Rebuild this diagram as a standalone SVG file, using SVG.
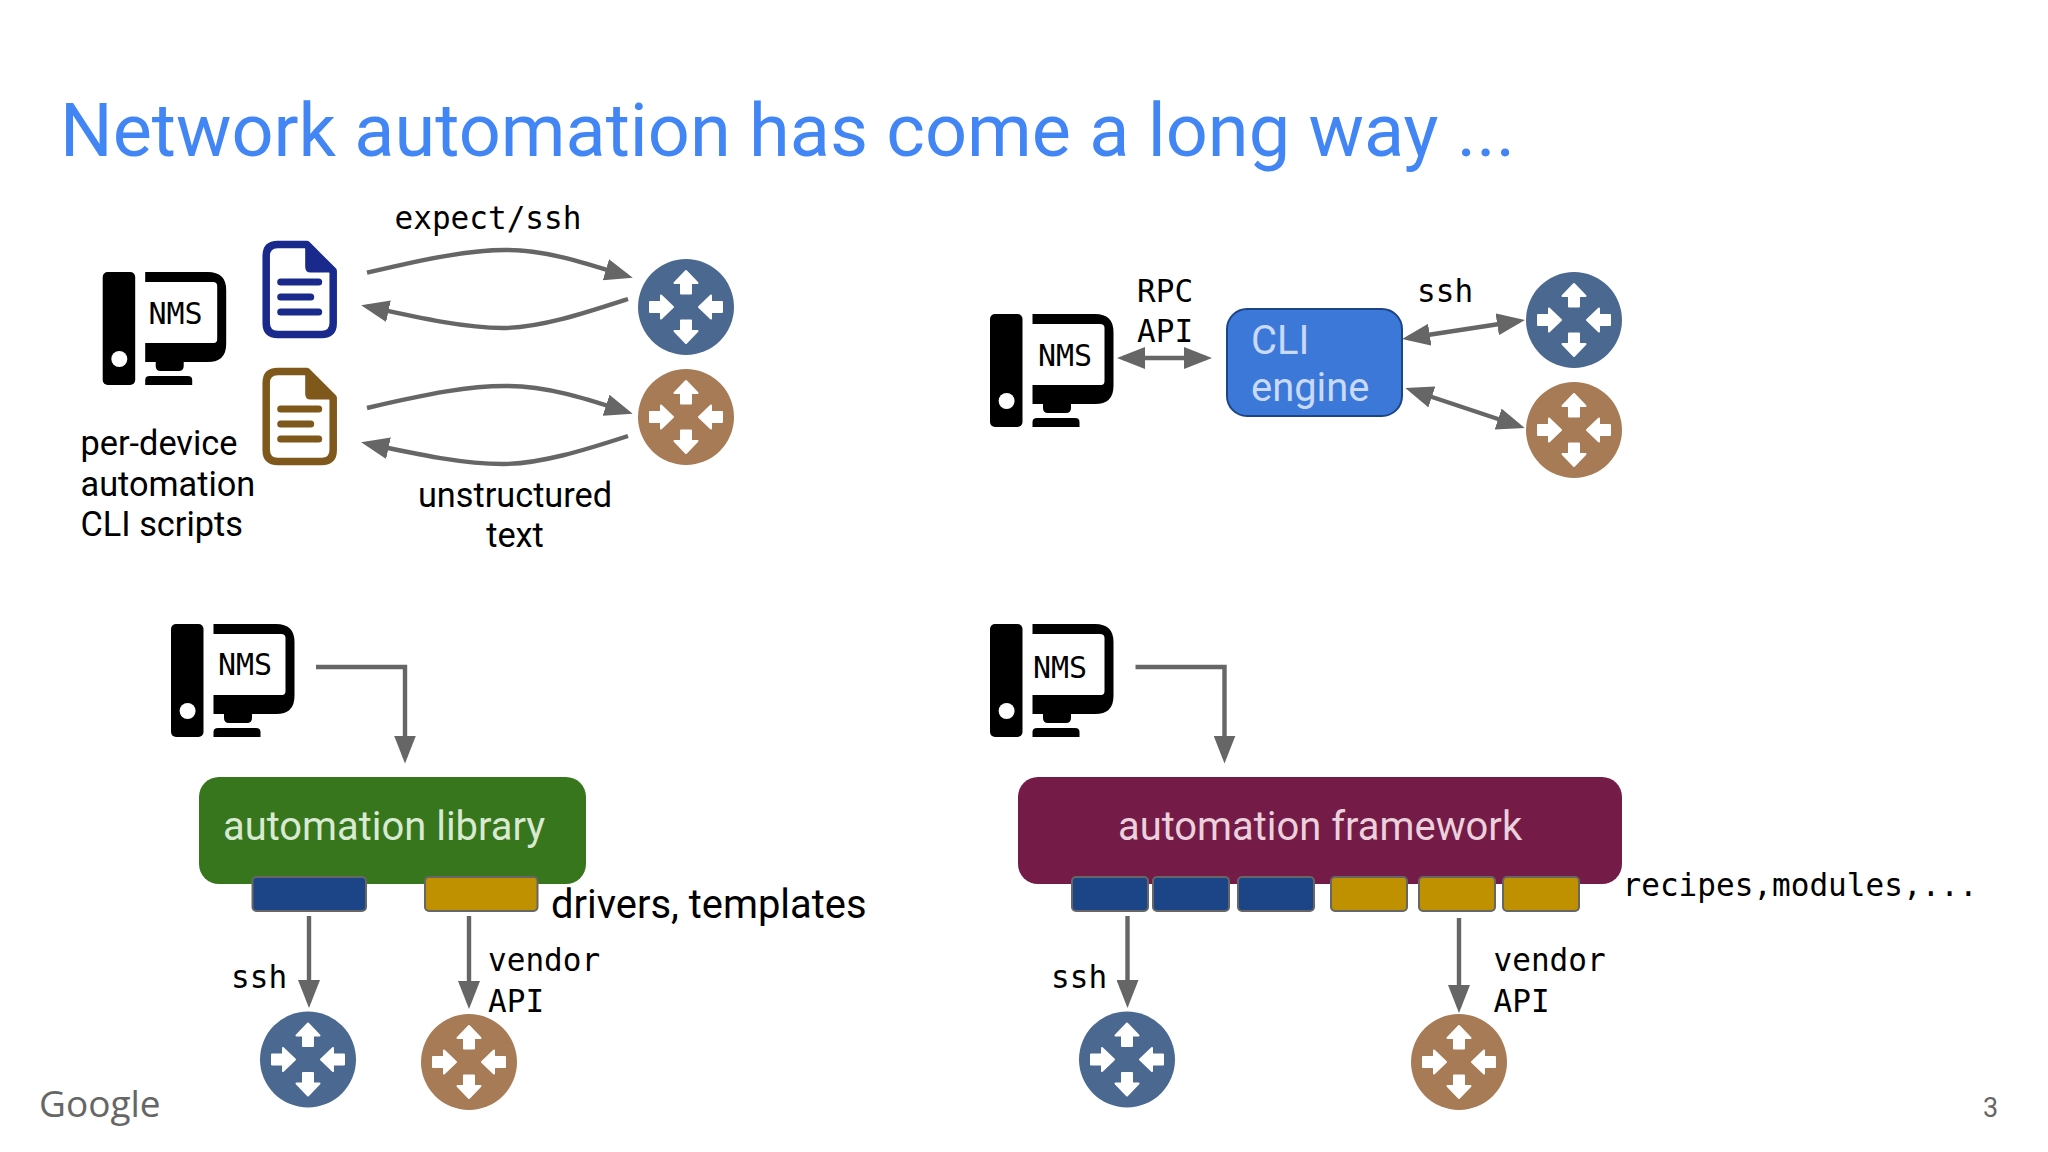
<svg xmlns="http://www.w3.org/2000/svg" xmlns:xlink="http://www.w3.org/1999/xlink" width="2048" height="1152" viewBox="0 0 2048 1152">
<style>
.mono{font-family:"DejaVu Sans Mono","Liberation Mono",monospace;font-size:31.05px;fill:#000}
.sans{font-family:Roboto,"Liberation Sans",sans-serif;font-size:34.3px;fill:#000}
.big{font-family:Roboto,"Liberation Sans",sans-serif;font-size:39.9px}
.nms{font-family:"DejaVu Sans Mono","Liberation Mono",monospace;font-size:30px;fill:#000;text-anchor:middle}
.conn{fill:none;stroke:#666;stroke-width:4.4;stroke-linejoin:miter}
.end{marker-end:url(#head)}
.both{marker-start:url(#head);marker-end:url(#head)}
.slot{stroke:#666;stroke-width:2}
.blue{fill:#1c4587}
.gold{fill:#bf9000}
.rb{color:#4a6890}
.rr{color:#a67b55}
</style>
<defs>
<marker id="head" markerUnits="userSpaceOnUse" markerWidth="28" markerHeight="22" viewBox="0 0 28 22" refX="22" refY="11" orient="auto-start-reverse">
<path d="M0,0 L28,11 L0,22 Z" fill="#666"/>
</marker>
<symbol id="pc" overflow="visible" width="124" height="113" viewBox="0 0 124 113">
<rect x="0" y="0" width="32.5" height="113" rx="5" fill="#000"/>
<circle cx="16.6" cy="87" r="8" fill="#fff"/>
<path fill="#000" d="M42.5,0 H105 Q123.5,0 123.5,18 V72 Q123.5,90 105,90 H81 V94 Q81,99 76,99 H58 Q53,99 53,94 V90 H42.5 V71 H111 Q114.5,71 114.5,67 V14 Q114.5,10 110,10 H42.5 Z"/>
<path fill="#000" d="M42.5,113 V108 Q42.5,104 47,104 H85 Q89.5,104 89.5,108 V113 Z"/>
</symbol>
<symbol id="doc" overflow="visible" width="74" height="97" viewBox="0 0 74 97">
<path d="M15,3.5 H44 L70.5,30 V82 Q70.5,93.5 59,93.5 H15 Q3.5,93.5 3.5,82 V15 Q3.5,3.5 15,3.5 Z" fill="#fff" stroke="currentColor" stroke-width="7.5" stroke-linejoin="round"/>
<path d="M44,3.5 L70.5,30 H48 Q44,30 44,26 Z" fill="currentColor" stroke="currentColor" stroke-width="3" stroke-linejoin="round"/>
<path d="M18,41 H56 M18,56 H48 M18,71 H56" stroke="currentColor" stroke-width="7" stroke-linecap="round" fill="none"/>
</symbol>
<symbol id="router" overflow="visible" width="96" height="96" viewBox="-48 -48 96 96">
<circle r="48" fill="currentColor"/>
<g fill="#fff" stroke="#fff" stroke-width="2" stroke-linejoin="round">
<path d="M0,-36 L11.5,-24 H5 V-13.5 H-5 V-24 H-11.5 Z"/>
<path d="M0,36 L11.5,24 H5 V13.5 H-5 V24 H-11.5 Z"/>
<path d="M-13,0 L-25,11.5 V5 H-36 V-5 H-25 V-11.5 Z"/>
<path d="M13,0 L25,11.5 V5 H36 V-5 H25 V-11.5 Z"/>
</g>
</symbol>
</defs>
<rect id="background" width="2048" height="1152" fill="#fff"/>
<text id="title" x="60" y="156" font-family="Roboto,'Liberation Sans',sans-serif" font-size="73.85" fill="#4285f4">Network automation has come a long way ...</text>

<g id="connectors">
<path class="conn end" d="M367,272.7 C430,258 470,250 505,250 C550,250 590,265 627,276"/>
<path class="conn end" d="M628,299 C585,313 540,328 503,328 C465,328 420,318 367,306.5"/>
<path class="conn end" d="M367,408 C430,393 470,386 505,386 C550,386 590,400 627,412"/>
<path class="conn end" d="M628,436 C585,450 540,464 503,464 C465,464 420,455 367,443.5"/>
<path class="conn both" d="M1123,358 H1206"/>
<path class="conn both" d="M1408,338 L1519,321"/>
<path class="conn both" d="M1411,390 L1519,426"/>
<path class="conn end" d="M316,667 H405 V757.5"/>
<path class="conn end" d="M1135.5,667 H1224.5 V757.5"/>
<path class="conn end" d="M309,916 V1002"/>
<path class="conn end" d="M469,916 V1003"/>
<path class="conn end" d="M1127.5,916 V1002"/>
<path class="conn end" d="M1459,918 V1007"/>
</g>

<g id="nms-1"><use href="#pc" x="102.7" y="272"/><text class="nms" x="175.6" y="324">NMS</text></g>
<g id="doc-blue" style="color:#1a2a8c"><use href="#doc" x="262.7" y="241"/></g>
<g id="doc-brown" style="color:#7f591c"><use href="#doc" x="262.7" y="368"/></g>
<g id="router-1" class="rb"><use href="#router" x="638" y="259"/></g>
<g id="router-2" class="rr"><use href="#router" x="638" y="369"/></g>
<g id="label-scripts">
<text class="sans" x="80.5" y="455">per-device</text>
<text class="sans" x="80.5" y="496">automation</text>
<text class="sans" x="80.5" y="536">CLI scripts</text>
</g>
<text id="label-expect" class="mono" x="394.5" y="229">expect/ssh</text>
<g id="label-unstructured">
<text class="sans" x="515" y="507" text-anchor="middle">unstructured</text>
<text class="sans" x="515" y="547" text-anchor="middle">text</text>
</g>

<g id="nms-2"><use href="#pc" x="990" y="314"/><text class="nms" x="1065" y="366">NMS</text></g>
<g id="cli-engine">
<rect x="1227" y="309" width="175" height="107" rx="20" fill="#3c78d8" stroke="#1c4587" stroke-width="2"/>
<text class="big" x="1251" y="354" fill="#c9daf8">CLI</text>
<text class="big" x="1251" y="401" fill="#c9daf8">engine</text>
</g>
<g id="router-3" class="rb"><use href="#router" x="1526" y="272"/></g>
<g id="router-4" class="rr"><use href="#router" x="1526" y="382"/></g>
<g id="label-rpc">
<text class="mono" x="1137" y="302">RPC</text>
<text class="mono" x="1137" y="342">API</text>
</g>
<text id="label-ssh-top" class="mono" x="1417" y="302">ssh</text>

<g id="nms-3"><use href="#pc" x="171" y="624"/><text class="nms" x="245" y="675">NMS</text></g>
<g id="automation-library">
<rect x="199" y="777" width="387" height="107" rx="20" fill="#38761d"/>
<text class="big" x="223" y="840" fill="#d9ead3">automation library</text>
</g>
<g id="driver-blue"><rect class="slot blue" x="252.5" y="877" width="113.5" height="34" rx="4"/></g>
<g id="driver-gold"><rect class="slot gold" x="425" y="877" width="112.5" height="34" rx="4"/></g>
<text id="label-drivers" class="big" x="551" y="918" fill="#000">drivers, templates</text>
<g id="router-5" class="rb"><use href="#router" x="260" y="1011.5"/></g>
<g id="router-6" class="rr"><use href="#router" x="421" y="1014"/></g>
<text id="label-ssh-lib" class="mono" x="231" y="988">ssh</text>
<g id="label-vendor-lib">
<text class="mono" x="488" y="971">vendor</text>
<text class="mono" x="488" y="1012">API</text>
</g>

<g id="nms-4"><use href="#pc" x="990" y="624"/><text class="nms" x="1060" y="678">NMS</text></g>
<g id="automation-framework">
<rect x="1018" y="777" width="604" height="107" rx="20" fill="#741b47"/>
<text class="big" x="1118" y="840" fill="#ead1dc">automation framework</text>
</g>
<g id="module-1"><rect class="slot blue" x="1072" y="877" width="76" height="34" rx="4"/></g>
<g id="module-2"><rect class="slot blue" x="1153" y="877" width="76" height="34" rx="4"/></g>
<g id="module-3"><rect class="slot blue" x="1238" y="877" width="76" height="34" rx="4"/></g>
<g id="module-4"><rect class="slot gold" x="1331" y="877" width="76" height="34" rx="4"/></g>
<g id="module-5"><rect class="slot gold" x="1419" y="877" width="76" height="34" rx="4"/></g>
<g id="module-6"><rect class="slot gold" x="1503" y="877" width="76" height="34" rx="4"/></g>
<text id="label-recipes" class="mono" x="1625" y="896" dx="-2.5">recipes,modules,...</text>
<g id="router-7" class="rb"><use href="#router" x="1079" y="1011.5"/></g>
<g id="router-8" class="rr"><use href="#router" x="1411" y="1014"/></g>
<text id="label-ssh-fw" class="mono" x="1051" y="988">ssh</text>
<g id="label-vendor-fw">
<text class="mono" x="1493.5" y="971">vendor</text>
<text class="mono" x="1493.5" y="1012">API</text>
</g>

<text id="logo" x="39" y="1117" font-family="'Open Sans',Roboto,sans-serif" font-size="37" fill="#666">Google</text>
<text id="page" x="1983" y="1117" font-family="Roboto,sans-serif" font-size="27" fill="#666">3</text>
</svg>
